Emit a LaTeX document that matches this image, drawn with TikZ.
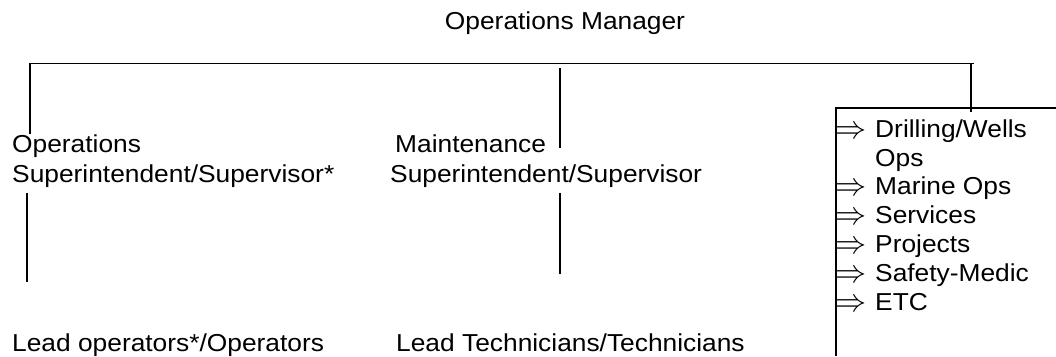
\documentclass[tikz,border=0pt]{standalone}
\usepackage{graphicx}
\usepackage{fontspec}
\setmainfont{Liberation Sans}[FakeStretch=1.075]
\newcommand{\listarrow}{\scalebox{1.25}[1.3]{$\Rightarrow$}}
\tikzset{
	chart/.style = {line width=1.1pt},
	lbl/.style = {anchor=base west, inner sep=0pt},
	arr/.style = {anchor=base west, inner sep=0pt}
}
\begin{document}
\begin{tikzpicture}[x=1pt, y=-1pt, font={\fontsize{24.5}{29}\selectfont}]
	\useasboundingbox (0,0) rectangle (1056,356);
					% Draw title
					\node [lbl, anchor=base] (mgr) at (565,29) {Operations Manager};

					% Draw the two departments
					\node [lbl] (opsA) at (12,152) {Operations};
					\node [lbl] (opsB) at (12,182) {Superintendent/Supervisor*};
					\node [lbl] (mntA) at (395,152) {Maintenance};
					\node [lbl] (mntB) at (390,182) {Superintendent/Supervisor};

					% Draw the staff below
					\node [lbl] (leadOps) at (12,351) {Lead operators*/Operators};
					\node [lbl] (leadTech) at (396,351) {Lead Technicians/Technicians};

					% Draw the list of other groups
					\node [arr] (arrA) at (835,138) {\listarrow};
					\node [lbl] (itemA) at (875,137) {Drilling/Wells};
					\node [lbl] (itemB) at (875,166) {Ops};
					\node [arr] (arrC) at (835,195) {\listarrow};
					\node [lbl] (itemC) at (875,194) {Marine Ops};
					\node [arr] (arrD) at (835,224) {\listarrow};
					\node [lbl] (itemD) at (875,223) {Services};
					\node [arr] (arrE) at (835,253) {\listarrow};
					\node [lbl] (itemE) at (875,252) {Projects};
					\node [arr] (arrF) at (835,282) {\listarrow};
					\node [lbl] (itemF) at (875,281) {Safety-Medic};
					\node [arr] (arrG) at (835,311) {\listarrow};
					\node [lbl] (itemG) at (875,310) {ETC};

					% Points of the connectors
					\coordinate (opsTop) at (30,134);
					\coordinate (barEnd) at (974,63.5);
					\coordinate (barDrop) at (971,63.5);
					\coordinate (boxTop) at (971,112);
					\coordinate (boxLow) at (836,356);
					\coordinate (boxRight) at (1056,108);
					\coordinate (mntUp) at (560,68);
					\coordinate (mntTop) at (560,148);
					\coordinate (mntBot) at (560,193);
					\coordinate (techTop) at (560,274);
					\coordinate (opsBot) at (27,193);
					\coordinate (leadTop) at (27,282);

					% Draw the connectors
					\draw [chart] (opsTop) |- (barEnd);
					\draw [chart] (barDrop) -- (boxTop);
					\draw [chart] (mntUp) -- (mntTop);
					\draw [chart] (mntBot) -- (techTop);
					\draw [chart] (opsBot) -- (leadTop);
					\draw [chart] (boxLow) |- (boxRight);
\end{tikzpicture}
\end{document}
